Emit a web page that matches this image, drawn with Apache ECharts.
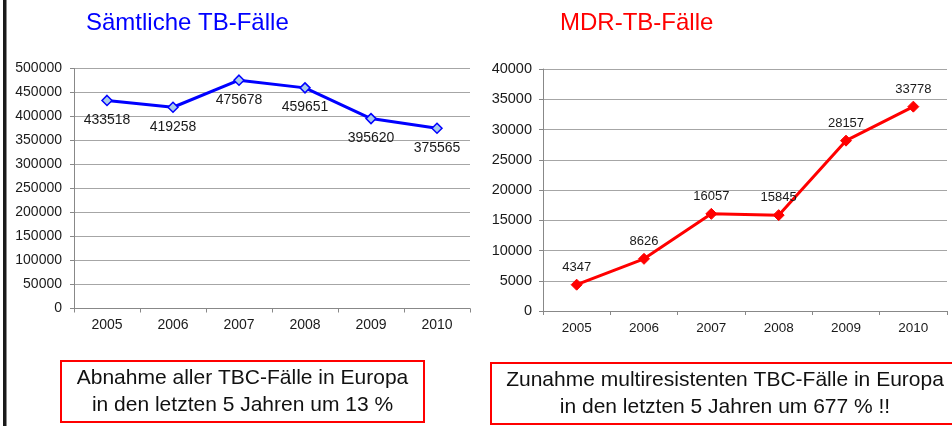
<!DOCTYPE html>
<html>
<head>
<meta charset="utf-8">
<script src="https://cdn.jsdelivr.net/npm/echarts@6/dist/echarts.min.js"></script>
<style>
html,body{margin:0;padding:0;background:#fff;}
#chart{width:952px;height:426px;}
</style>
</head>
<body>
<div id="chart"></div>
<script>
// ---- data ----
var years = ['2005', '2006', '2007', '2008', '2009', '2010'];
var allCases = [433518, 419258, 475678, 459651, 395620, 375565];
var mdrCases = [4347, 8626, 16057, 15845, 28157, 33778];
var leftTitle = 'Sämtliche TB-Fälle';
var rightTitle = 'MDR-TB-Fälle';
var leftNote = 'Abnahme aller TBC-Fälle in Europa\nin den letzten 5 Jahren um 13 %';
var rightNote = 'Zunahme multiresistenten TBC-Fälle in Europa\nin den letzten 5 Jahren um 677 % !!';

var FONT = "'Liberation Sans', Arial, sans-serif";
var chart = echarts.init(document.getElementById('chart'));

function xAxis(gi) {
  return {
    type: 'category', gridIndex: gi, data: years, boundaryGap: true,
    axisLine: {lineStyle: {color: '#888', width: 1}},
    axisTick: {show: true, length: 4, alignWithLabel: false, lineStyle: {color: '#888'}},
    axisLabel: {color: '#1a1a1a', fontSize: gi === 0 ? 14 : 13.5, fontFamily: FONT, margin: 10},
    splitLine: {show: false}
  };
}
function yAxis(gi, max, interval, fs, margin) {
  return {
    type: 'value', gridIndex: gi, min: 0, max: max, interval: interval,
    axisLine: {show: true, lineStyle: {color: '#888', width: 1}},
    axisTick: {show: true, length: 4, lineStyle: {color: '#888'}},
    axisLabel: {color: '#1a1a1a', fontSize: fs, fontFamily: FONT, margin: margin,
      formatter: function (v) { return String(v); }},
    splitLine: {show: true, lineStyle: {color: '#a6a6a6', width: 1}}
  };
}

chart.setOption({
  animation: false,
  backgroundColor: '#fff',
  title: [
    {text: leftTitle, left: 86, top: 11, padding: 0, textStyle: {color: '#0000ff', fontSize: 24, fontWeight: 'normal', fontFamily: FONT}},
    {text: rightTitle, left: 560, top: 11, padding: 0, textStyle: {color: '#ff0000', fontSize: 24, fontWeight: 'normal', fontFamily: FONT}}
  ],
  grid: [
    {left: 74, top: 68.5, width: 396, height: 240},
    {left: 543, top: 69, width: 404, height: 242}
  ],
  xAxis: [xAxis(0), xAxis(1)],
  yAxis: [yAxis(0, 500000, 50000, 14, 12), yAxis(1, 40000, 5000, 14.5, 11)],
  series: [
    {
      type: 'line', xAxisIndex: 0, yAxisIndex: 0, data: allCases,
      symbol: 'diamond', symbolSize: 10,
      lineStyle: {color: '#0000ff', width: 3},
      itemStyle: {color: '#a9cbeb', borderColor: '#0000ff', borderWidth: 1.5},
      label: {show: true, position: 'bottom', distance: 7, color: '#1a1a1a', fontSize: 14, fontFamily: FONT}
    },
    {
      type: 'line', xAxisIndex: 1, yAxisIndex: 1, data: mdrCases,
      symbol: 'diamond', symbolSize: 11,
      lineStyle: {color: '#ff0000', width: 3},
      itemStyle: {color: '#ff0000', borderColor: '#ff0000', borderWidth: 1},
      label: {show: true, position: 'top', distance: 5, color: '#1a1a1a', fontSize: 13, fontFamily: FONT}
    }
  ],
  graphic: [
    {type: 'rect', left: 3, top: 0, shape: {width: 3.5, height: 426}, style: {fill: '#1a1a1a'}},
    {type: 'rect', shape: {x: 61, y: 361, width: 363, height: 61}, style: {fill: '#fff', stroke: '#ff0000', lineWidth: 2}},
    {type: 'text', x: 242.5, y: 392, style: {text: leftNote, fill: '#111', font: '21px ' + FONT, textAlign: 'center', textVerticalAlign: 'middle', lineHeight: 27}},
    {type: 'rect', shape: {x: 491, y: 363, width: 470, height: 61}, style: {fill: '#fff', stroke: '#ff0000', lineWidth: 2}},
    {type: 'text', x: 725, y: 394, style: {text: rightNote, fill: '#111', font: '21px ' + FONT, textAlign: 'center', textVerticalAlign: 'middle', lineHeight: 27}}
  ]
});
</script>
</body>
</html>
